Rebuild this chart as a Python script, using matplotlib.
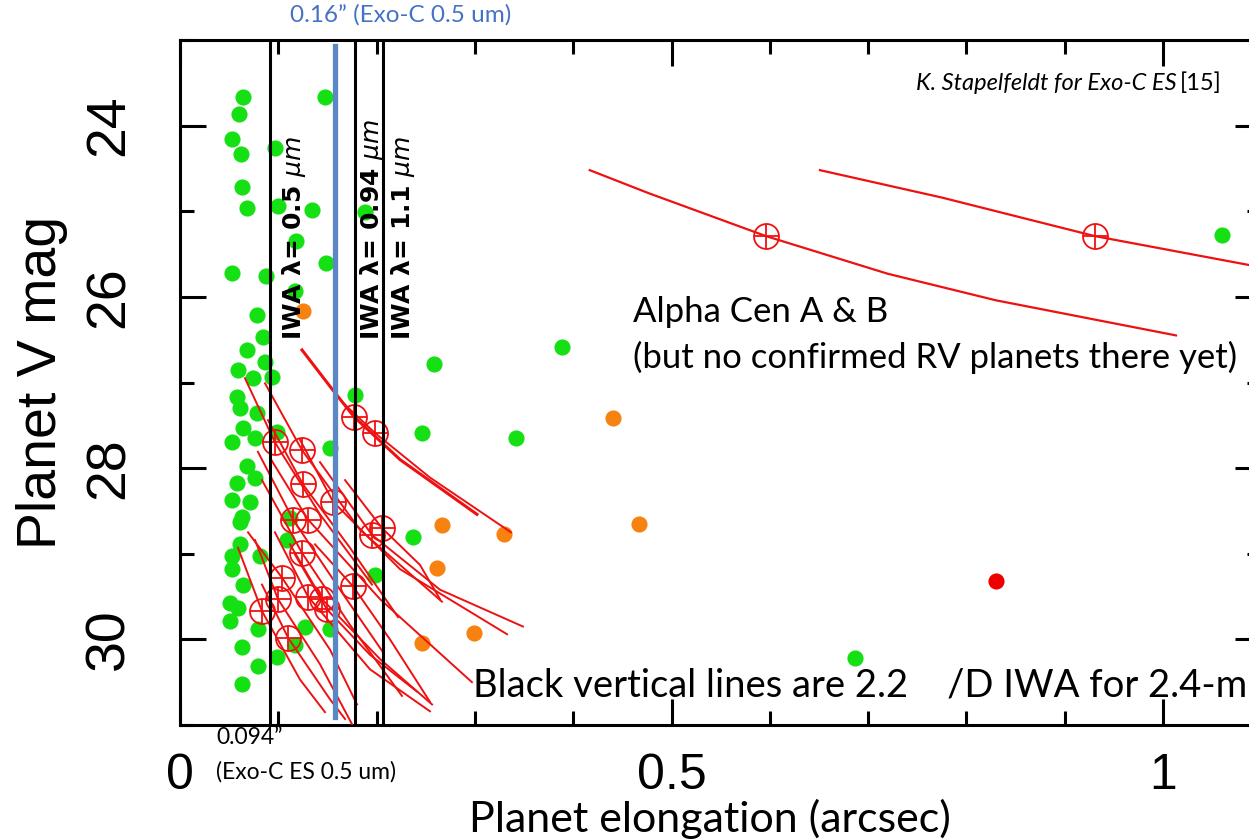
import matplotlib
matplotlib.use('Agg')
import matplotlib.pyplot as plt
from matplotlib.ticker import MultipleLocator, FuncFormatter

W, H = 1249, 840

# planets shown as dots
green_x = [0.0641, 0.0600, 0.0529, 0.0621, 0.0966, 0.0631, 0.0682, 0.0997, 0.1343, 0.1180,
           0.1485, 0.0529, 0.0875, 0.1170, 0.0783, 0.1475, 0.1882,
           0.0844, 0.0682, 0.0865, 0.0590, 0.0743, 0.0936, 0.0580, 0.0610, 0.0783, 0.0641,
           0.0529, 0.0763, 0.0987, 0.0682, 0.0580, 0.0763, 0.0529, 0.0712, 0.0631, 0.1526,
           0.1780, 0.1119,
           0.0610, 0.0610, 0.0529, 0.0529, 0.0641, 0.0509, 0.0590, 0.0509, 0.0793, 0.0814,
           0.1088, 0.0631, 0.0793, 0.0631, 0.0987, 0.1272, 0.1170, 0.1526,
           0.258, 0.389, 0.246, 0.342, 0.2375, 1.060, 0.687, 0.1984]
green_y = [23.66, 23.87, 24.16, 24.33, 24.26, 24.72, 24.96, 24.94, 24.99, 25.35,
           25.61, 25.72, 25.76, 25.93, 26.21, 23.67, 25.01,
           26.47, 26.62, 26.76, 26.85, 26.95, 26.94, 27.17, 27.30, 27.36, 27.53,
           27.70, 27.65, 27.58, 27.98, 28.17, 28.11, 28.37, 28.39, 28.57, 27.76,
           27.15, 28.58,
           28.63, 28.89, 29.03, 29.18, 29.36, 29.57, 29.63, 29.79, 29.88, 29.03,
           28.84, 30.09, 30.31, 30.52, 30.20, 29.86, 30.06, 29.88,
           26.78, 26.59, 27.59, 27.65, 28.80, 25.28, 30.22, 29.25]
orange_x = [0.125, 0.440, 0.267, 0.330, 0.467, 0.261, 0.299, 0.246]
orange_y = [26.16, 27.41, 28.67, 28.77, 28.65, 29.17, 29.93, 30.04]
red_x = [0.830]
red_y = [29.32]

# RV planet tracks (elongation, V mag) with the marked position
track_x = [
    [0.1241, 0.1556, 0.1770, 0.2238, 0.3021],
    [0.1679, 0.1984, 0.2543, 0.3367],
    [0.0661, 0.0966, 0.1424, 0.1953],
    [0.0865, 0.1241, 0.1831, 0.2665],
    [0.0895, 0.1251, 0.1729, 0.2218],
    [0.1221, 0.1556, 0.2238, 0.3327],
    [0.0793, 0.1150, 0.1628, 0.2065],
    [0.0916, 0.1302, 0.2035, 0.2970],
    [0.0834, 0.1241, 0.1729, 0.2258],
    [0.1424, 0.1953, 0.2645, 0.3489],
    [0.1679, 0.2055, 0.2441, 0.2645],
    [0.1373, 0.1760, 0.2136, 0.2543],
    [0.0692, 0.1038, 0.1526, 0.1801],
    [0.0590, 0.0834, 0.1221, 0.1475],
    [0.0763, 0.0997, 0.1424, 0.1750],
    [0.0834, 0.1099, 0.1526, 0.1679],
    [0.0966, 0.1302, 0.1933, 0.2543],
    [0.1119, 0.1445, 0.2035, 0.2564],
    [0.1170, 0.1495, 0.1933, 0.2411],
]
track_y = [
    [26.62, 27.09, 27.40, 27.90, 28.54],
    [27.26, 27.59, 28.11, 28.75],
    [26.95, 27.70, 28.54, 29.36],
    [27.01, 27.79, 28.72, 29.56],
    [27.44, 28.19, 28.93, 29.74],
    [27.67, 28.39, 29.18, 29.94],
    [27.81, 28.60, 29.42, 30.15],
    [27.88, 28.60, 29.53, 30.50],
    [28.14, 28.99, 29.83, 30.66],
    [27.93, 28.78, 29.42, 29.85],
    [28.14, 28.70, 29.13, 29.53],
    [28.89, 29.38, 30.00, 30.73],
    [28.75, 29.28, 30.12, 30.76],
    [28.93, 29.67, 30.47, 30.85],
    [28.84, 29.53, 30.29, 30.99],
    [29.36, 29.98, 30.70, 30.93],
    [28.75, 29.50, 30.35, 30.84],
    [28.89, 29.53, 30.23, 30.76],
    [29.01, 29.65, 30.18, 30.61],
]
mark_x = [0.1770, 0.1984, 0.0966, 0.1241, 0.1251, 0.1556, 0.1150, 0.1302, 0.1241, 0.1953,
          0.2055, 0.1760, 0.1038, 0.0834, 0.0997, 0.1099, 0.1302, 0.1445, 0.1495]
mark_y = [27.40, 27.59, 27.70, 27.79, 28.19, 28.39, 28.60, 28.60, 28.99, 28.78,
          28.70, 29.38, 29.28, 29.67, 29.53, 29.98, 29.50, 29.53, 29.65]

# Alpha Cen A & B tracks
acen_x = [[0.4168, 0.477, 0.596, 0.720, 0.830, 1.0132],
          [0.651, 0.775, 0.9306, 1.0885, 1.10]]
acen_y = [[24.52, 24.79, 25.29, 25.73, 26.04, 26.45],
          [24.52, 24.84, 25.29, 25.63, 25.66]]
acen_mark_x = [0.596, 0.9306]
acen_mark_y = [25.29, 25.29]

iwa_x = [0.092, 0.178, 0.207]
iwa_labels = ['IWA λ= 0.5 $\\mu m$', 'IWA λ= 0.94 $\\mu m$', 'IWA λ= 1.1 $\\mu m$']
iwa_label_x = [0.116, 0.195, 0.227]
exoc_x = 0.158

body = 'Lato'
RED = '#ee1111'
fig = plt.figure(figsize=(W / 100, H / 100), dpi=100)
x0, x1 = 180, 180 + 1.10 * 983
ax = fig.add_axes([x0 / W, 1 - 725 / H, (x1 - x0) / W, 685 / H])
ax.set_xlim(0, 1.10)
ax.set_ylim(31, 23)

ax.scatter(green_x, green_y, s=135, color='#14e014', linewidths=0, zorder=2)
ax.scatter(orange_x, orange_y, s=135, color='#f7820f', linewidths=0, zorder=2)
ax.scatter(red_x, red_y, s=135, color='#ee0000', linewidths=0, zorder=2)

for i, (tx, ty) in enumerate(zip(track_x, track_y)):
    ax.plot(tx, ty, color=RED, lw=2.2 if i == 0 else 1.4, zorder=3)
for tx, ty in zip(acen_x, acen_y):
    ax.plot(tx, ty, color=RED, lw=1.6, zorder=3)
for mx, my in [(mark_x, mark_y), (acen_mark_x, acen_mark_y)]:
    ax.plot(mx, my, 'o', ms=18, mfc='none', mec=RED, mew=1.3, ls='none', zorder=3)
    ax.plot(mx, my, '+', ms=18, mec=RED, mew=1.3, ls='none', zorder=3)

for xv in iwa_x:
    ax.axvline(xv, color='black', lw=2.2, zorder=4)
ax.plot([exoc_x, exoc_x], [23.07, 30.91], color='#5b87c5', lw=3.8, zorder=5)

for lx, lab in zip(iwa_label_x, iwa_labels):
    ax.text(lx, 26.5, lab, rotation=90, ha='center', va='bottom', fontsize=18,
            fontweight='bold', family='DejaVu Sans', zorder=6)

ax.xaxis.set_major_locator(MultipleLocator(0.5))
ax.xaxis.set_minor_locator(MultipleLocator(0.1))
ax.yaxis.set_major_locator(MultipleLocator(2))
ax.yaxis.set_minor_locator(MultipleLocator(1))
ax.xaxis.set_major_formatter(FuncFormatter(lambda v, p: f'{v:g}'))
ax.tick_params(which='both', direction='in', top=True, right=True, width=2.2)
ax.tick_params(which='major', length=19)
ax.tick_params(which='minor', length=10)
ax.tick_params(axis='x', which='major', pad=20, labelsize=36)
ax.tick_params(axis='y', which='major', pad=32, labelsize=40)
for lab in ax.get_xticklabels() + ax.get_yticklabels():
    lab.set_family('Liberation Sans')
for lab in ax.get_yticklabels():
    lab.set_rotation(90)
    lab.set_va('center')
for sp in ax.spines.values():
    sp.set_linewidth(2.2)


def ftext(px, py, s, **kw):
    return fig.text(px / W, 1 - py / H, s, **kw)


ftext(42, 382, 'Planet V mag', fontsize=40, family='Liberation Sans', rotation=90,
      ha='center', va='center')
ftext(710, 839, 'Planet elongation (arcsec)', fontsize=31, family=body,
      ha='center', va='bottom')

ftext(290, 15, '0.16” (Exo-C 0.5 um)', color='#4472c4', fontsize=17.5, family=body,
      va='center', ha='left')
ftext(216, 738, '0.094”', fontsize=16.5, family=body, va='center', ha='left')
ftext(216, 772, '(Exo-C ES 0.5 um)', fontsize=16.5, family=body, va='center', ha='left')
ftext(633, 312, 'Alpha Cen A & B', fontsize=25, family=body, va='center', ha='left')
ftext(633, 357, '(but no confirmed RV planets there yet)', fontsize=25, family=body,
      va='center', ha='left')
ftext(473, 685, 'Black vertical lines are 2.2    /D IWA for 2.4-m', fontsize=27.5,
      family=body, va='center', ha='left')

ref = ftext(1222, 83, '[15]', fontsize=17, family=body, va='center', ha='right')
r = fig.canvas.get_renderer()
bb = ref.get_window_extent(r)
fig.text(bb.x0 / W - 0.003, 1 - 83 / H, 'K. Stapelfeldt for Exo-C ES', fontsize=17,
         family=body, style='italic', va='center', ha='right')

fig.savefig('out.png', dpi=100)
